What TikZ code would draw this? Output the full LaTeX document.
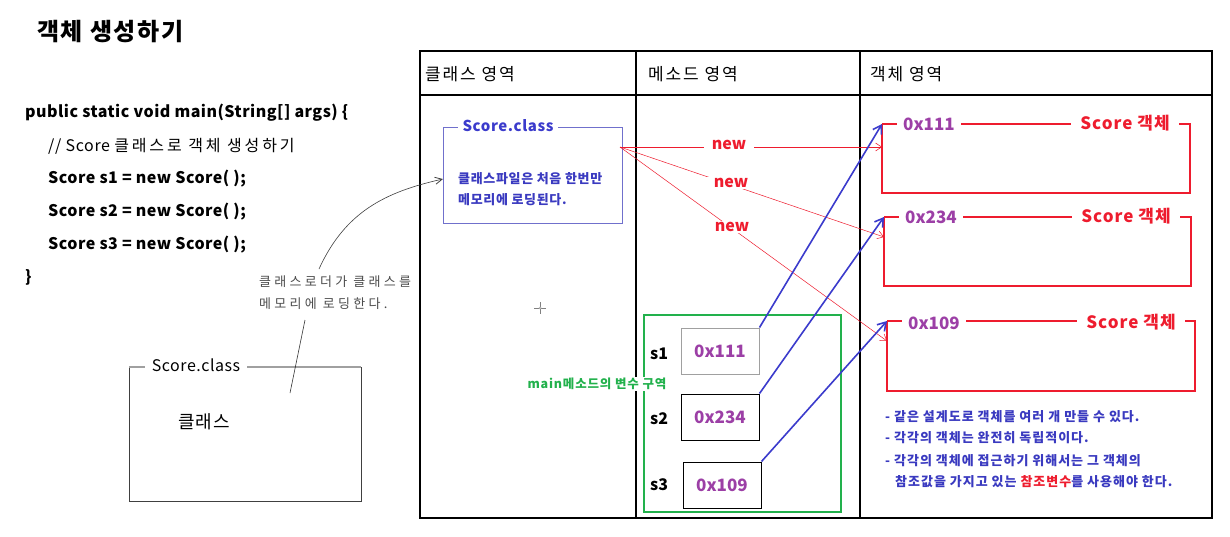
\documentclass[tikz,border=0pt]{standalone}
\usepackage{fontspec}
\setmainfont{Noto Sans CJK KR}
\usetikzlibrary{arrows.meta}
\definecolor{cred}{HTML}{EE1C2E}
\definecolor{cpurple}{HTML}{9C3FA6}
\definecolor{cblue}{HTML}{3B3BCC}
\definecolor{cnote}{HTML}{3A3AC0}
\definecolor{cgreen}{HTML}{22B14C}
\definecolor{cclass}{HTML}{7070CC}
\definecolor{cgray}{HTML}{A0A0A0}
\newcommand{\fsz}[1]{\fontsize{#1}{#1}\selectfont}
\newcommand{\lsp}[1]{\addfontfeatures{LetterSpace=#1}}
\begin{document}
\begin{tikzpicture}[x=1pt,y=-1pt,
  lbl/.style={inner sep=0pt, anchor=west},
  code/.style={lbl, font=\bfseries\fsz{16}\lsp{3}},
  head/.style={lbl, font=\fsz{17}\lsp{11}},
  redbox/.style={draw=cred, line width=2pt},
  addr/.style={fill=white, inner xsep=6pt, inner ysep=1pt, text=cpurple, font=\bfseries\fsz{17}},
  objlbl/.style={fill=white, inner xsep=9pt, inner ysep=1pt, text=cred, font=\bfseries\fsz{17}\lsp{6}},
  newline/.style={draw=cred, line width=0.5pt, -{Straight Barb[length=6pt,width=8pt,line width=0.5pt]}},
  newlbl/.style={fill=white, inner xsep=8pt, inner ysep=1pt, text=cred, font=\bfseries\fsz{16}},
  ref/.style={draw=cblue, line width=1.6pt, -{Straight Barb[length=8pt,width=10pt,line width=1.6pt]}},
  varbox/.style={draw=black, line width=1pt, minimum width=78pt, minimum height=46pt, inner sep=0pt, text=cpurple, font=\bfseries\fsz{17}},
  var/.style={lbl, font=\bfseries\fsz{16}},
  note/.style={lbl, text=cnote, font=\bfseries\fsz{13}\lsp{7.5}},
  clsnote/.style={lbl, text=cnote, font=\bfseries\fsz{13}\lsp{5}},
  loader/.style={lbl, text=black!70, font=\fsz{13}\lsp{25}},
]
\useasboundingbox[fill=white] (0,0) rectangle (1230,536);

% title
\node[lbl, font=\bfseries\fsz{24}\lsp{7}] (title) at (37,32) {객체 생성하기};

% code
\node[code] (c1) at (25,113) {public static void main(String[] args) \{};
\node[lbl, font=\fsz{16}\lsp{4}] (c2) at (48,146) {// Score {\lsp{18}클래스로 객체 생성하기}};
\node[code] (c3) at (48,179) {Score s1 = new Score( );};
\node[code] (c4) at (48,212) {Score s2 = new Score( );};
\node[code] (c5) at (48,245) {Score s3 = new Score( );};
\node[code] (c6) at (25,277) {\}};

% left class box
\draw[draw=black!75, line width=0.8pt] (129,367) -- (129,501) -- (361,501) -- (361,367);
\draw[draw=cgray, line width=1.6pt] (129,367) -- (361,367);
\node[fill=white, inner xsep=7pt, inner ysep=1pt, font=\fsz{16}\lsp{3.5}] (lcls) at (196,365) {Score.class};
\node[lbl, font=\fsz{18}\lsp{5.5}] (lk) at (178,422) {클래스};

% loader note
\node[loader] (ln1) at (259,282) {클래스로더가 클래스를};
\node[loader] (ln2) at (259,304) {메모리에 로딩한다.};
\coordinate (lcTop) at (319,269);
\coordinate (lcBot1) at (305,320);
\coordinate (lcBot2) at (290,393);
\draw[black!80, line width=0.6pt] (lcBot1) -- (lcBot2);

% table
\draw[line width=2pt] (420,51) rectangle (1212,518);
\draw[line width=2.6pt] (420,95) -- (1212,95);
\draw[line width=2pt] (636,51) -- (636,518);
\draw[line width=2pt] (860,51) -- (860,518);
\node[head] (h1) at (425,74) {클래스 영역};
\node[head] (h2) at (648,74) {메소드 영역};
\node[head] (h3) at (870,74) {객체 영역};

% class area box
\draw[draw=cclass, line width=0.9pt] (443,127) rectangle (622,223);
\node[fill=white, inner xsep=5pt, inner ysep=1pt, text=cblue, font=\bfseries\fsz{15}\lsp{4}] (cls) at (508,126) {Score.class};
\node[clsnote] (cl1) at (458,179) {클래스파일은 처음 한번만};
\node[clsnote] (cl2) at (458,200) {메모리에 로딩된다.};
\coordinate (clsOut) at (620,147);

% loader curve arrow
\draw[black!75, line width=0.6pt, -{Straight Barb[length=7pt,width=7pt,line width=0.8pt]}] (lcTop) .. controls (345,212) and (385,192) .. (443,179);

% cursor mark
\draw[gray, line width=0.6pt] (534,308) -- (546,308) (540,302) -- (540,314);
\fill[gray!60] (540,308) circle (1.5pt);

% object boxes
\coordinate (o1) at (882,124);
\coordinate (o2) at (884,217);
\coordinate (o3) at (887,321);
\draw[redbox] (882,124) -- (882,193) -- (1190,193) -- (1190,124) -- (882,124);
\draw[redbox] (884,217) -- (884,286) -- (1191,286) -- (1191,217) -- (884,217);
\draw[redbox] (887,321) -- (887,391) -- (1195,391) -- (1195,321) -- (887,321);

% new lines
\draw[newline] (clsOut) -- (882,147);
\draw[newline] (clsOut) -- (884,237);
\draw[newline] (clsOut) -- (887,341);
\node[newlbl] (n1) at (729,145) {new};
\node[newlbl] (n2) at (731,183) {new};
\node[newlbl] (n3) at (732,227) {new};

% object labels
\node[addr] (a1) at (929,124) {0x111};
\node[objlbl] (t1) at (1125,123) {Score 객체};
\node[addr] (a2) at (931,217) {0x234};
\node[objlbl] (t2) at (1126,216) {Score 객체};
\node[addr] (a3) at (934,323) {0x109};
\node[objlbl] (t3) at (1131,322) {Score 객체};

% method area variables
\draw[draw=cgreen, line width=1.8pt] (644,315) rectangle (841,512);
\node[fill=white, inner xsep=2pt, inner ysep=1pt, text=cgreen, font=\bfseries\fsz{12.5}\lsp{6.5}] (mlbl) at (597,384) {main메소드의 변수 구역};
\node[varbox, draw=cgray] (v1) at (720,351) {0x111};
\node[varbox] (v2) at (720,417) {0x234};
\node[varbox] (v3) at (722,485) {0x109};
\node[var] (s1) at (650,354) {s1};
\node[var] (s2) at (650,419) {s2};
\node[var] (s3) at (650,485) {s3};

% reference arrows
\draw[ref] (v1.north east) -- (o1);
\draw[ref] (v2.north east) -- (o2);
\draw[ref] (v3.north east) -- (o3);

% notes
\node[note] (nt1) at (885,417) {- 같은 설계도로 객체를 여러 개 만들 수 있다.};
\node[note] (nt2) at (885,438) {- 각각의 객체는 완전히 독립적이다.};
\node[note] (nt3) at (885,461) {- 각각의 객체에 접근하기 위해서는 그 객체의};
\node[note] (nt4) at (895,482) {참조값을 가지고 있는 \textcolor{cred}{참조변수}를 사용해야 한다.};
\end{tikzpicture}
\end{document}
